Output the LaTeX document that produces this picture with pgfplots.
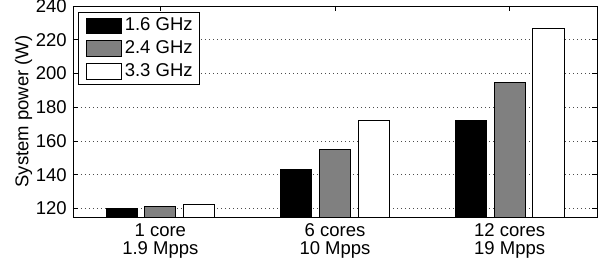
\documentclass[border=0pt]{standalone}
\usepackage{pgfplots}
\pgfplotsset{compat=1.18}
\usepackage{fontspec}
\setmainfont{Liberation Sans}
\newcommand{\chfont}{\fontsize{18.5bp}{18bp}\selectfont}
\pgfplotsset{mylegend/.style={legend image code/.code={\draw[##1] (0bp,-7.8bp) rectangle (35bp,7.8bp);}}}
\begin{document}
\chfont
\begin{tikzpicture}
\begin{axis}[
  scale only axis, width=524bp, height=211bp,
  xmin=0.5, xmax=3.5, ymin=115, ymax=240,
  ytick={120,140,...,240},
  xtick={1,2,3},
  xticklabels={{1 core\\1.9 Mpps},{6 cores\\10 Mpps},{12 cores\\19 Mpps}},
  xticklabel style={align=center, font=\chfont},
  yticklabel style={font=\chfont},
  /pgf/number format/assume math mode=true,
  ylabel={System power (W)},
  ylabel style={font=\chfont},
  ylabel shift=-9bp,
  tick align=inside,
  major tick length=5bp,
  tick style={black, line width=0.8bp},
  axis line style={line width=0.8bp},
  ymajorgrids,
  major grid style={dash pattern=on 1bp off 3bp, black!70, line width=0.7bp},
  legend style={at={(axis description cs:0.0101,0.970)}, anchor=north west,
    draw=black, fill=white, line width=0.8bp, font=\chfont,
    inner xsep=7bp, inner ysep=5bp, row sep=6.3bp, column sep=3.3bp,
    nodes={inner sep=0bp}, cells={anchor=west}},
]
\addplot[ybar, bar width=0.178, bar shift=-0.222, fill=black, draw=black, line width=0.8bp, mylegend]
  coordinates {(1,120.3) (2,143.3) (3,172.2)};
\addplot[ybar, bar width=0.178, bar shift=0, fill=black!50, draw=black, line width=0.8bp, mylegend]
  coordinates {(1,121.3) (2,155.1) (3,194.7)};
\addplot[ybar, bar width=0.178, bar shift=0.222, fill=white, draw=black, line width=0.8bp, mylegend]
  coordinates {(1,122.5) (2,172.2) (3,226.8)};
\legend{1.6 GHz, 2.4 GHz, 3.3 GHz}
\end{axis}
\pgfresetboundingbox
\useasboundingbox ([shift={(-73bp,-48bp)}]current axis.south west) rectangle ([shift={(11bp,6bp)}]current axis.north east);
\end{tikzpicture}
\end{document}
